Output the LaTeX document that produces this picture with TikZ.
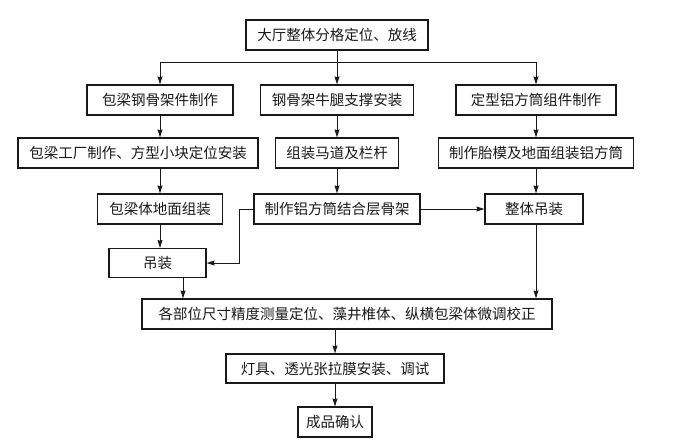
\documentclass[tikz,border=0pt]{standalone}
\usepackage{fontspec}
\setmainfont{Noto Sans CJK SC}
\usetikzlibrary{arrows.meta}
\begin{document}
\begin{tikzpicture}[x=1pt,y=-1pt,
  box/.style={draw=black!90, line width=1.3pt, minimum height=30pt, inner sep=0pt,
    font=\fontsize{14.5}{16}\selectfont, text=black!90},
  arr/.style={draw=black!90, line width=0.8pt, -{Stealth[length=8pt,width=5pt,inset=1pt]}},
  ln/.style={draw=black!90, line width=0.8pt}]
\useasboundingbox (0,0) rectangle (674,445);
% nodes
\node[box, minimum width=182pt] (top) at (337,35) {大厅整体分格定位、放线};
\node[box, minimum width=146pt] (B1) at (160,100) {包梁钢骨架件制作};
\node[box, minimum width=153pt] (B2) at (337,100) {钢骨架牛腿支撑安装};
\node[box, minimum width=160pt] (B3) at (536,100) {定型铝方筒组件制作};
\node[box, minimum width=240pt] (R2a) at (138,153) {包梁工厂制作、方型小块定位安装};
\node[box, minimum width=123pt] (R2b) at (337,153) {组装马道及栏杆};
\node[box, minimum width=195pt] (R2c) at (536,153) {制作胎模及地面组装铝方筒};
\node[box, minimum width=125pt] (R3a) at (160,209) {包梁体地面组装};
\node[box, minimum width=166pt] (R3b) at (337,209) {制作铝方筒结合层骨架};
\node[box, minimum width=98pt] (R3c) at (534,209) {整体吊装};
\node[box, minimum width=97pt, minimum height=29pt] (DZ) at (157.5,263) {吊装};
\node[box, minimum width=410pt] (Big) at (347,314) {各部位尺寸精度测量定位、藻井椎体、纵横包梁体微调校正};
\node[box, minimum width=218pt, minimum height=29pt] (LD) at (335,368.5) {灯具、透光张拉膜安装、调试};
\node[box, minimum width=74pt] (CP) at (335,422) {成品确认};
% helper coordinates
\coordinate (br) at (337,62);
\coordinate (c1) at (239,209);
\coordinate (dzx) at (183,0);
\coordinate (rcx) at (536,0);
% connectors
\draw[ln] (top.south) -- (br);
\draw[arr] (br) -| (B1.north);
\draw[arr] (br) -| (B3.north);
\draw[arr] (br) -- (B2.north);
\draw[arr] (B1.south) -- (B1.south |- R2a.north);
\draw[arr] (B2.south) -- (R2b.north);
\draw[arr] (B3.south) -- (R2c.north);
\draw[arr] (R3a.north |- R2a.south) -- (R3a.north);
\draw[arr] (R2b.south) -- (R3b.north);
\draw[arr] (R2c.south -| rcx) -- (R3c.north -| rcx);
\draw[arr] (R3a.south) -- (R3a.south |- DZ.north);
\draw[arr] (R3b.west) -- (R3b.west -| c1) |- (DZ.east);
\draw[arr] (R3b.east) -- (R3c.west);
\draw[arr] (DZ.south -| dzx) -- (Big.north -| dzx);
\draw[arr] (R3c.south -| rcx) -- (Big.north -| rcx);
\draw[arr] (LD.north |- Big.south) -- (LD.north);
\draw[arr] (LD.south) -- (CP.north);
\end{tikzpicture}
\end{document}
